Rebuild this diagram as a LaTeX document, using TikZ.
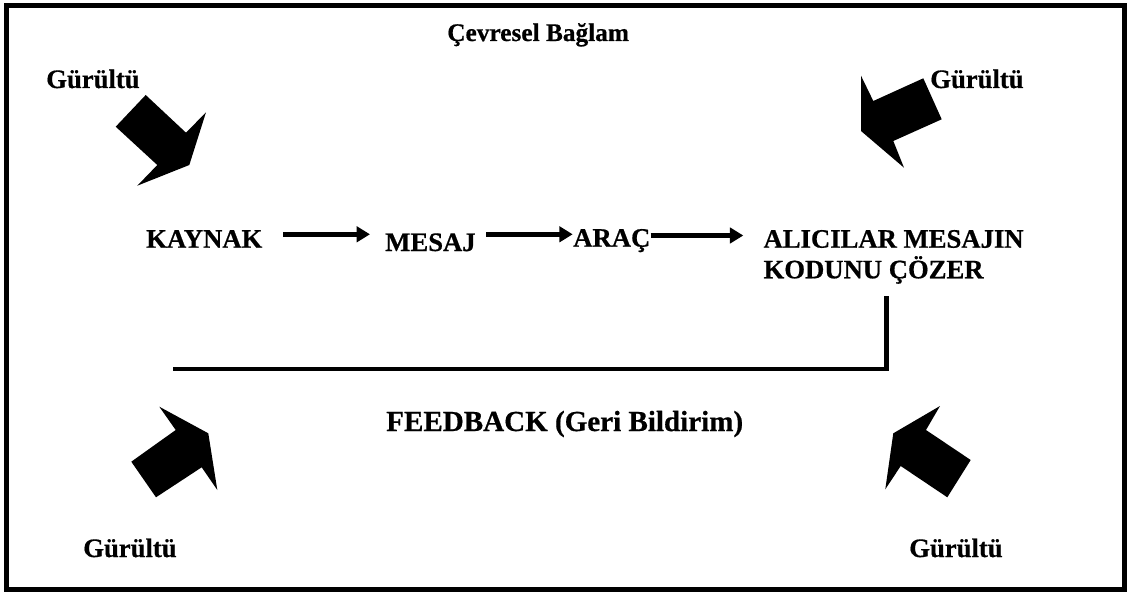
\documentclass[tikz,border=0pt]{standalone}
\usepackage{fontspec}
\setmainfont{Liberation Serif}[BoldFeatures={FakeBold=0.6}]
\usetikzlibrary{arrows.meta,calc}
\tikzset{
  lbl/.style={font=\bfseries\fontsize{20}{23}\selectfont, inner sep=0pt, anchor=base west},
  flow/.style={line width=3.9pt, -{Triangle[length=10pt,width=11.5pt]}},
  noise/.style={fill=black, draw=none},
  fb/.style={line width=3.4pt, line join=miter}
}
\begin{document}
\begin{tikzpicture}[x=0.75pt,y=-0.75pt]
\useasboundingbox (0,0) rectangle (1129,592);
\draw[line width=3.75pt] (6.7,5.8) rectangle (1124.5,589);
% labels
\node[lbl, font=\bfseries\fontsize{19}{22}\selectfont] (cevre) at (447,41) {Çevresel Bağlam};
\node[lbl] (g1) at (46,88) {Gürültü};
\node[lbl] (g2) at (930,88) {Gürültü};
\node[lbl] (g3) at (83,557) {Gürültü};
\node[lbl] (g4) at (909,557) {Gürültü};
\node[lbl] (kaynak) at (146,247.7) {KAYNAK};
\node[lbl] (mesaj) at (385,251) {MESAJ};
\node[lbl] (arac) at (573,246.7) {ARAÇ};
\node[lbl] (alici1) at (763.3,247.7) {ALICILAR MESAJIN};
\node[lbl] (alici2) at (763.3,278.3) {KODUNU ÇÖZER};
\node[lbl, font=\bfseries\fontsize{21.8}{25}\selectfont] (feed) at (386,431) {FEEDBACK (Geri Bildirim)};
% flow arrows
\coordinate (a1s) at (283.3,234.3);
\coordinate (a1e) at (370,234.3);
\coordinate (a2s) at (486,234.3);
\coordinate (a2e) at (572.7,234.3);
\coordinate (a3s) at (650.7,235.5);
\coordinate (a3e) at (743.3,235.5);
\draw[flow] (a1s) -- (a1e);
\draw[flow] (a2s) -- (a2e);
\draw[flow] (a3s) -- (a3e);
% feedback line
\coordinate (fbs) at (886.7,296);
\coordinate (fbe) at (173.3,368.8);
\draw[fb] (fbs) |- (fbe);
% noise arrows
\fill[noise] (115.7,126.7) -- (145.7,95) -- (186,132.7) -- (206,112.3) -- (189.3,165) -- (137.3,185.7) -- (157.3,165) -- cycle;
\fill[noise] (861,75.7) -- (873.3,101) -- (923.3,78.3) -- (941.7,119.3) -- (893.3,141) -- (904,167.7) -- (861,131) -- cycle;
\fill[noise] (159.3,406.7) -- (175.7,430) -- (131.3,461.7) -- (156,497.3) -- (201.7,467.3) -- (217.3,490) -- (208.3,433.3) -- cycle;
\fill[noise] (940,406) -- (926,430) -- (970.7,460) -- (947.3,497.3) -- (900.7,466) -- (885.3,489.3) -- (893.3,433.3) -- cycle;
\end{tikzpicture}
\end{document}
